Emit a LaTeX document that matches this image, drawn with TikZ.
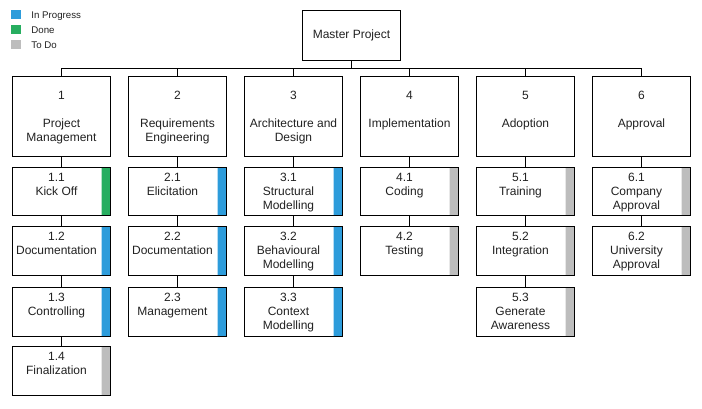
\documentclass[tikz,border=0pt]{standalone}
\usepackage{fontspec}
\setmainfont{Liberation Sans}
\usetikzlibrary{positioning}
\definecolor{progresscolor}{HTML}{2D9CDB}
\definecolor{donecolor}{HTML}{27AE60}
\definecolor{todocolor}{HTML}{BDBDBD}
\definecolor{inkcolor}{HTML}{212121}

\begin{document}
\begin{tikzpicture}[x=1pt, y=-1pt, line width=0.9pt,
    every node/.style={font=\fontsize{12}{14}\selectfont, text=inkcolor},
    wpbox/.style={draw, anchor=north west, inner sep=0pt, minimum width=98pt, minimum height=80pt},
    taskbox/.style={draw, anchor=north west, inner sep=0pt, minimum width=98pt, minimum height=48.5pt},
    boxtext/.style={anchor=north, align=center, inner sep=0pt},
    legendtext/.style={anchor=base west, inner sep=0pt, font=\fontsize{9.7}{11}\selectfont}]
    \useasboundingbox (0,0) rectangle (702,409);

    % Legend
    \foreach \y/\st/\lab in {10/progresscolor/In Progress, 25/donecolor/Done, 40/todocolor/To Do} {
        \fill[\st] (11,\y) rectangle (21,\y+9);
        \node[legendtext] (leg\st) at (31,\y+8.3) {\lab};
    }

    % Master project
    \node[wpbox, minimum height=50pt] (master) at (302,10) {Master Project};

    % Work packages
    \foreach \i/\title in {1/Project\\Management, 2/Requirements\\Engineering,
                           3/Architecture and\\Design, 4/Implementation,
                           5/Adoption, 6/Approval} {
        \pgfmathsetmacro{\px}{12 + 116*(\i-1)}
        \node[wpbox] (p\i) at (\px,76) {};
        \node[boxtext] (p\i txt) at ([yshift=-14.7pt]p\i.north) {\i\\[14pt]\title};
    }

    % Bus from master to work packages
    \coordinate (bus) at ([yshift=8pt]p1.north);
    \draw (master.south) -- (master.south |- bus);
    \draw (p1.north) -- (bus) -| (p6.north);
    \foreach \i in {2,3,4,5} {
        \draw (p\i.north) -- (p\i.north |- bus);
    }

    % Tasks with status bar
    \foreach \c/\r/\num/\name/\st in {
        1/1/1.1/Kick Off/donecolor,
        1/2/1.2/Documentation/progresscolor,
        1/3/1.3/Controlling/progresscolor,
        1/4/1.4/Finalization/todocolor,
        2/1/2.1/Elicitation/progresscolor,
        2/2/2.2/Documentation/progresscolor,
        2/3/2.3/Management/progresscolor,
        3/1/3.1/Structural\\Modelling/progresscolor,
        3/2/3.2/Behavioural\\Modelling/progresscolor,
        3/3/3.3/Context\\Modelling/progresscolor,
        4/1/4.1/Coding/todocolor,
        4/2/4.2/Testing/todocolor,
        5/1/5.1/Training/todocolor,
        5/2/5.2/Integration/todocolor,
        5/3/5.3/Generate\\Awareness/todocolor,
        6/1/6.1/Company\\Approval/todocolor,
        6/2/6.2/University\\Approval/todocolor} {
        \pgfmathsetmacro{\tx}{12 + 116*(\c-1)}
        \pgfmathsetmacro{\ty}{{167,226,287,346}[\r-1]}
        \pgfmathtruncatemacro{\prev}{\r-1}
        \fill[\st] (\tx+88.5,\ty) rectangle (\tx+98,\ty+48.5);
        \draw[\st!35, line width=0.6pt] (\tx+88.8,\ty) -- (\tx+88.8,\ty+48.5);
        \node[taskbox] (t\c\r) at (\tx,\ty) {};
        \node[boxtext] (t\c\r txt) at ([xshift=-5pt, yshift=-5.7pt]t\c\r.north) {\num\\\name};
        \ifnum\r=1
            \draw (p\c.south) -- (t\c\r.north);
        \else
            \draw (t\c\prev.south) -- (t\c\r.north);
        \fi
    }
\end{tikzpicture}
\end{document}
